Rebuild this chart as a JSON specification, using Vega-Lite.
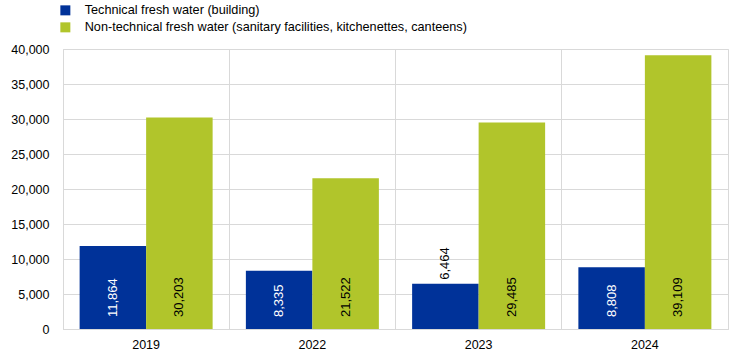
{
  "$schema": "https://vega.github.io/schema/vega-lite/v6.json",
  "width": 665,
  "height": 280,
  "autosize": {"type": "none"},
  "padding": {"left": 63, "top": 49, "right": 16, "bottom": 28},
  "background": "white",
  "config": {
    "font": "Liberation Sans",
    "view": {"stroke": "#d9d9d9", "strokeWidth": 1},
    "axis": {"labelFont": "Liberation Sans", "labelFontSize": 12.5, "labelColor": "#000000", "gridColor": "#d9d9d9", "domainColor": "#d9d9d9", "ticks": false, "title": null},
    "axisY": {"values": [0, 5000, 10000, 15000, 20000, 25000, 30000, 35000, 40000], "format": ",.0f", "labelPadding": 14, "domain": false, "labelOverlap": false, "grid": true, "title": null}
  },
  "data": {
    "values": [
      {"year": "2019", "series": "Technical fresh water (building)", "value": 11864},
      {"year": "2019", "series": "Non-technical fresh water (sanitary facilities, kitchenettes, canteens)", "value": 30203},
      {"year": "2022", "series": "Technical fresh water (building)", "value": 8335},
      {"year": "2022", "series": "Non-technical fresh water (sanitary facilities, kitchenettes, canteens)", "value": 21522},
      {"year": "2023", "series": "Technical fresh water (building)", "value": 6464},
      {"year": "2023", "series": "Non-technical fresh water (sanitary facilities, kitchenettes, canteens)", "value": 29485},
      {"year": "2024", "series": "Technical fresh water (building)", "value": 8808},
      {"year": "2024", "series": "Non-technical fresh water (sanitary facilities, kitchenettes, canteens)", "value": 39109}
    ]
  },
  "encoding": {
    "x": {
      "field": "year", "type": "nominal",
      "scale": {"paddingInner": 0, "paddingOuter": 0},
      "axis": {"labelAngle": 0, "grid": true, "bandPosition": 0, "labelPadding": 9, "domain": true}
    },
    "xOffset": {
      "field": "series", "type": "nominal",
      "sort": ["Technical fresh water (building)", "Non-technical fresh water (sanitary facilities, kitchenettes, canteens)"],
      "scale": {"paddingOuter": 0.25, "paddingInner": 0}
    }
  },
  "layer": [
    {
      "mark": {"type": "bar"},
      "encoding": {
        "y": {"field": "value", "type": "quantitative", "scale": {"domain": [0, 40000]}},
        "color": {
          "field": "series", "type": "nominal",
          "scale": {
            "domain": ["Technical fresh water (building)", "Non-technical fresh water (sanitary facilities, kitchenettes, canteens)"],
            "range": ["#003299", "#b1c52b"]
          },
          "legend": {
            "orient": "none", "legendX": -4, "legendY": -45, "title": null,
            "symbolType": "square", "symbolSize": 100, "symbolStrokeWidth": 0,
            "labelFontSize": 12.7, "labelFont": "Liberation Sans", "labelColor": "#000000",
            "rowPadding": 3, "labelOffset": 13, "labelLimit": 600
          }
        }
      }
    },
    {
      "transform": [{"filter": "datum.value >= 7000"}],
      "mark": {"type": "text", "angle": 270, "align": "left", "baseline": "middle", "dx": 12, "fontSize": 13},
      "encoding": {
        "y": {"datum": 0, "type": "quantitative"},
        "text": {"field": "value", "type": "quantitative", "format": ",.0f"},
        "color": {
          "condition": {"test": "datum.series == 'Technical fresh water (building)'", "value": "#ffffff"},
          "value": "#000000"
        }
      }
    },
    {
      "transform": [{"filter": "datum.value < 7000"}],
      "mark": {"type": "text", "angle": 270, "align": "left", "baseline": "middle", "dx": 4, "fontSize": 13, "color": "#000000"},
      "encoding": {
        "y": {"field": "value", "type": "quantitative"},
        "text": {"field": "value", "type": "quantitative", "format": ",.0f"}
      }
    }
  ]
}
